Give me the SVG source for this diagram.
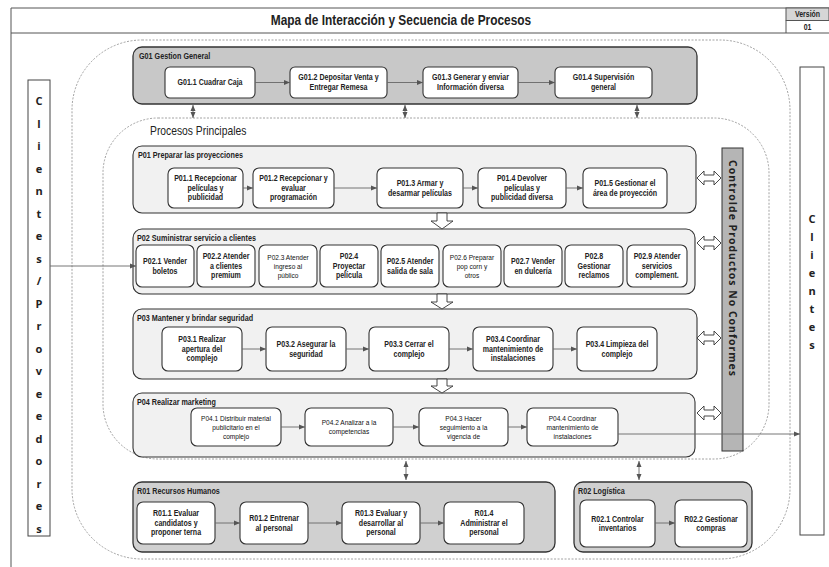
<svg xmlns="http://www.w3.org/2000/svg" width="829" height="567" viewBox="0 0 829 567">
<style>
.frame{fill:none;stroke:#555;stroke-width:1}
.grp{fill:#c8c8c8;stroke:#333;stroke-width:1.3}
.rgrp{fill:#d0d0d0;stroke:#333;stroke-width:1.3}
.pgrp{fill:#f1f1f1;stroke:#333;stroke-width:1.1}
.box{fill:#fff;stroke:#333;stroke-width:1.1}
.dash{fill:none;stroke:#8a8a8a;stroke-width:0.8;stroke-dasharray:2 1.5}
.t{font-family:"Liberation Sans",Arial,sans-serif;font-size:8.6px;font-weight:bold;fill:#222;text-anchor:middle}
.ts{font-family:"Liberation Sans",Arial,sans-serif;font-size:8px;fill:#111;text-anchor:middle}
.lbl{font-family:"Liberation Sans",Arial,sans-serif;font-size:8.8px;font-weight:bold;fill:#222}
.vt{font-family:"Open Sans","Noto Sans","Liberation Sans",sans-serif;font-size:11px;font-weight:bold;fill:#222;text-anchor:middle}
.conn{stroke:#666;stroke-width:0.9;fill:none;marker-end:url(#ah)}
.dbl{stroke:#666;stroke-width:0.9;fill:none;marker-end:url(#ah);marker-start:url(#ah)}
.hollow{fill:#fff;stroke:#333;stroke-width:0.9}
</style>
<defs>
<marker id="ah" markerWidth="6" markerHeight="6" refX="6" refY="3" orient="auto-start-reverse" markerUnits="userSpaceOnUse">
<path d="M0,0.5 L6,3 L0,5.5 z" fill="#555"/>
</marker>
</defs>
<rect width="829" height="567" fill="#fff"/>

<g id="frame">
<line class="frame" x1="11" y1="8" x2="829" y2="8"/>
<line class="frame" x1="11" y1="8" x2="11" y2="567"/>
<line class="frame" x1="11" y1="33" x2="829" y2="33"/>
<rect x="786" y="8" width="43" height="12.5" fill="#d6d6d6" stroke="#555" stroke-width="1"/>
<line class="frame" x1="786" y1="20.5" x2="786" y2="33"/>
<text transform="matrix(0.85 0 0 1 401 0)" x="0" y="25" style="font-family:'Liberation Sans',Arial,sans-serif;font-size:14px;font-weight:bold;fill:#222;text-anchor:middle">Mapa de Interacción y Secuencia de Procesos</text>
<text transform="matrix(0.82 0 0 1 807.5 0)" x="0" y="17.5" style="font-family:'Liberation Sans',Arial,sans-serif;font-size:8.5px;font-weight:bold;fill:#222;text-anchor:middle">Versión</text>
<text transform="matrix(0.82 0 0 1 807.5 0)" x="0" y="30" style="font-family:'Liberation Sans',Arial,sans-serif;font-size:8.5px;font-weight:bold;fill:#222;text-anchor:middle">01</text>
</g>

<rect class="dash" x="72" y="40" width="718" height="519" rx="70"/>
<rect class="dash" x="103" y="118" width="666" height="341" rx="55"/>
<text transform="matrix(0.86 0 0 1 150 0)" x="0" y="135" style="font-family:'Liberation Sans',Arial,sans-serif;font-size:12px;fill:#222">Procesos Principales</text>

<g id="clientes-proveedores">
<rect x="28" y="80" width="22" height="456" fill="#fff" stroke="#444" stroke-width="1"/>
<text class="vt">
<tspan x="39" y="105">C</tspan><tspan x="39" y="127.5">l</tspan><tspan x="39" y="150">i</tspan><tspan x="39" y="172.5">e</tspan><tspan x="39" y="195">n</tspan><tspan x="39" y="217.5">t</tspan><tspan x="39" y="240">e</tspan><tspan x="39" y="262.5">s</tspan><tspan x="39" y="285">/</tspan><tspan x="39" y="307.5">P</tspan><tspan x="39" y="330">r</tspan><tspan x="39" y="352.5">o</tspan><tspan x="39" y="375">v</tspan><tspan x="39" y="397.5">e</tspan><tspan x="39" y="420">e</tspan><tspan x="39" y="442.5">d</tspan><tspan x="39" y="465">o</tspan><tspan x="39" y="487.5">r</tspan><tspan x="39" y="510">e</tspan><tspan x="39" y="532.5">s</tspan>
</text>
</g>

<g id="clientes">
<rect x="800" y="67" width="24" height="468" fill="#fff" stroke="#444" stroke-width="1"/>
<text class="vt">
<tspan x="812" y="223">C</tspan><tspan x="812" y="241">l</tspan><tspan x="812" y="259">i</tspan><tspan x="812" y="277">e</tspan><tspan x="812" y="295">n</tspan><tspan x="812" y="313">t</tspan><tspan x="812" y="331">e</tspan><tspan x="812" y="349">s</tspan>
</text>
</g>

<g id="control">
<rect x="722" y="148" width="21" height="303" fill="#b5b5b5" stroke="#333" stroke-width="1"/>
<text transform="rotate(90 732.5 268)" x="732.5" y="272" textLength="216" lengthAdjust="spacing" style="font-family:'Open Sans','Noto Sans',sans-serif;font-size:10.5px;font-weight:bold;fill:#222;text-anchor:middle">Controlde Productos No Conformes</text>
</g>

<g id="G01">
<rect class="grp" x="133" y="47" width="564" height="57" rx="9"/>
<text class="lbl" transform="matrix(0.82 0 0 1 139 0)" x="0" y="59">G01 Gestion General</text>
<rect class="box" x="165" y="67" width="90" height="31" rx="5"/>
<text class="t" transform="matrix(0.82 0 0 1 210 0)" x="0" y="85.5">G01.1 Cuadrar Caja</text>
<rect class="box" x="290" y="67" width="97" height="31" rx="5"/>
<text class="t" transform="matrix(0.82 0 0 1 338.5 0)"><tspan x="0" y="80.5">G01.2 Depositar Venta y</tspan><tspan x="0" y="90.5">Entregar Remesa</tspan></text>
<rect class="box" x="423" y="67" width="95" height="31" rx="5"/>
<text class="t" transform="matrix(0.82 0 0 1 470.5 0)"><tspan x="0" y="80.5">G01.3 Generar y enviar</tspan><tspan x="0" y="90.5">Información diversa</tspan></text>
<rect class="box" x="555" y="67" width="97" height="31" rx="5"/>
<text class="t" transform="matrix(0.82 0 0 1 603.5 0)"><tspan x="0" y="80.5">G01.4 Supervisión</tspan><tspan x="0" y="90.5">general</tspan></text>
</g>

<g id="P01">
<rect class="pgrp" x="133" y="146" width="563" height="67" rx="9"/>
<text class="lbl" transform="matrix(0.82 0 0 1 138 0)" x="0" y="158">P01 Preparar las proyecciones</text>
<rect class="box" x="168" y="168" width="75" height="40" rx="6"/>
<text class="t" transform="matrix(0.82 0 0 1 205.5 0)"><tspan x="0" y="181.5">P01.1 Recepcionar</tspan><tspan x="0" y="191">películas y</tspan><tspan x="0" y="200.5">publicidad</tspan></text>
<rect class="box" x="253" y="168" width="81" height="40" rx="6"/>
<text class="t" transform="matrix(0.82 0 0 1 293.5 0)"><tspan x="0" y="181.5">P01.2 Recepcionar y</tspan><tspan x="0" y="191">evaluar</tspan><tspan x="0" y="200.5">programación</tspan></text>
<rect class="box" x="377" y="168" width="86" height="40" rx="6"/>
<text class="t" transform="matrix(0.82 0 0 1 420 0)"><tspan x="0" y="186.25">P01.3 Armar y</tspan><tspan x="0" y="195.75">desarmar películas</tspan></text>
<rect class="box" x="478" y="168" width="88" height="40" rx="6"/>
<text class="t" transform="matrix(0.82 0 0 1 522 0)"><tspan x="0" y="181.5">P01.4 Devolver</tspan><tspan x="0" y="191">películas y</tspan><tspan x="0" y="200.5">publicidad diversa</tspan></text>
<rect class="box" x="583" y="168" width="84" height="40" rx="6"/>
<text class="t" transform="matrix(0.82 0 0 1 625 0)"><tspan x="0" y="186.25">P01.5 Gestionar el</tspan><tspan x="0" y="195.75">área de proyección</tspan></text>
</g>

<g id="P02">
<rect class="pgrp" x="133" y="229" width="562" height="65" rx="9"/>
<text class="lbl" transform="matrix(0.82 0 0 1 137 0)" x="0" y="241">P02 Suministrar servicio a clientes</text>
<rect class="box" x="136" y="245" width="58" height="42" rx="6"/>
<text class="t" transform="matrix(0.82 0 0 1 165 0)"><tspan x="0" y="264.25">P02.1 Vender</tspan><tspan x="0" y="273.75">boletos</tspan></text>
<rect class="box" x="197" y="245" width="58" height="42" rx="6"/>
<text class="t" transform="matrix(0.82 0 0 1 226 0)"><tspan x="0" y="259.5">P02.2 Atender</tspan><tspan x="0" y="269">a clientes</tspan><tspan x="0" y="278.5">premium</tspan></text>
<rect class="box" x="259" y="245" width="58" height="42" rx="6"/>
<text class="ts" transform="matrix(0.82 0 0 1 288 0)"><tspan x="0" y="260">P02.3 Atender</tspan><tspan x="0" y="269">ingreso al</tspan><tspan x="0" y="278">público</tspan></text>
<rect class="box" x="320" y="245" width="58" height="42" rx="6"/>
<text class="t" transform="matrix(0.82 0 0 1 349 0)"><tspan x="0" y="259.5">P02.4</tspan><tspan x="0" y="269">Proyectar</tspan><tspan x="0" y="278.5">película</tspan></text>
<rect class="box" x="381" y="245" width="58" height="42" rx="6"/>
<text class="t" transform="matrix(0.82 0 0 1 410 0)"><tspan x="0" y="264.25">P02.5 Atender</tspan><tspan x="0" y="273.75">salida de sala</tspan></text>
<rect class="box" x="443" y="245" width="58" height="42" rx="6"/>
<text class="ts" transform="matrix(0.82 0 0 1 472 0)"><tspan x="0" y="260">P02.6 Preparar</tspan><tspan x="0" y="269">pop corn y</tspan><tspan x="0" y="278">otros</tspan></text>
<rect class="box" x="504" y="245" width="58" height="42" rx="6"/>
<text class="t" transform="matrix(0.82 0 0 1 533 0)"><tspan x="0" y="264.25">P02.7 Vender</tspan><tspan x="0" y="273.75">en dulcería</tspan></text>
<rect class="box" x="565" y="245" width="58" height="42" rx="6"/>
<text class="t" transform="matrix(0.82 0 0 1 594 0)"><tspan x="0" y="259.5">P02.8</tspan><tspan x="0" y="269">Gestionar</tspan><tspan x="0" y="278.5">reclamos</tspan></text>
<rect class="box" x="627" y="245" width="60" height="42" rx="6"/>
<text class="t" transform="matrix(0.82 0 0 1 657 0)"><tspan x="0" y="259.5">P02.9 Atender</tspan><tspan x="0" y="269">servicios</tspan><tspan x="0" y="278.5">complement.</tspan></text>
</g>

<g id="P03">
<rect class="pgrp" x="133" y="309" width="564" height="70" rx="9"/>
<text class="lbl" transform="matrix(0.82 0 0 1 137 0)" x="0" y="321">P03 Mantener y brindar seguridad</text>
<rect class="box" x="162" y="327" width="80" height="44" rx="6"/>
<text class="t" transform="matrix(0.82 0 0 1 202 0)"><tspan x="0" y="342.5">P03.1 Realizar</tspan><tspan x="0" y="352">apertura del</tspan><tspan x="0" y="361.5">complejo</tspan></text>
<rect class="box" x="266" y="327" width="80" height="44" rx="6"/>
<text class="t" transform="matrix(0.82 0 0 1 306 0)"><tspan x="0" y="347.25">P03.2 Asegurar la</tspan><tspan x="0" y="356.75">seguridad</tspan></text>
<rect class="box" x="369" y="327" width="80" height="44" rx="6"/>
<text class="t" transform="matrix(0.82 0 0 1 409 0)"><tspan x="0" y="347.25">P03.3 Cerrar el</tspan><tspan x="0" y="356.75">complejo</tspan></text>
<rect class="box" x="473" y="327" width="80" height="44" rx="6"/>
<text class="t" transform="matrix(0.82 0 0 1 513 0)"><tspan x="0" y="342.5">P03.4 Coordinar</tspan><tspan x="0" y="352">mantenimiento de</tspan><tspan x="0" y="361.5">instalaciones</tspan></text>
<rect class="box" x="577" y="327" width="80" height="44" rx="6"/>
<text class="t" transform="matrix(0.82 0 0 1 617 0)"><tspan x="0" y="347.25">P03.4 Limpieza del</tspan><tspan x="0" y="356.75">complejo</tspan></text>
</g>

<g id="P04">
<rect class="pgrp" x="133" y="393" width="562" height="64" rx="9"/>
<text class="lbl" transform="matrix(0.82 0 0 1 137 0)" x="0" y="405">P04 Realizar marketing</text>
<rect class="box" x="191" y="408" width="90" height="38" rx="6"/>
<text class="ts" transform="matrix(0.82 0 0 1 236 0)"><tspan x="0" y="421">P04.1 Distribuir material</tspan><tspan x="0" y="430">publicitario en el</tspan><tspan x="0" y="439">complejo</tspan></text>
<rect class="box" x="305" y="408" width="88" height="38" rx="6"/>
<text class="ts" transform="matrix(0.82 0 0 1 349 0)"><tspan x="0" y="425.5">P04.2 Analizar  a la</tspan><tspan x="0" y="434.5">competencias</tspan></text>
<rect class="box" x="419" y="408" width="89" height="38" rx="6"/>
<text class="ts" transform="matrix(0.82 0 0 1 463.5 0)"><tspan x="0" y="421">P04.3 Hacer</tspan><tspan x="0" y="430">seguimiento a la</tspan><tspan x="0" y="439">vigencia de</tspan></text>
<rect class="box" x="527" y="408" width="91" height="38" rx="6"/>
<text class="ts" transform="matrix(0.82 0 0 1 572.5 0)"><tspan x="0" y="421">P04.4 Coordinar</tspan><tspan x="0" y="430">mantenimiento  de</tspan><tspan x="0" y="439">instalaciones</tspan></text>
</g>

<g id="R01">
<rect class="rgrp" x="133" y="482" width="422" height="70" rx="9"/>
<text class="lbl" transform="matrix(0.82 0 0 1 137 0)" x="0" y="494">R01 Recursos Humanos</text>
<rect class="box" x="137" y="502" width="78" height="42" rx="6"/>
<text class="t" transform="matrix(0.82 0 0 1 176 0)"><tspan x="0" y="516.5">R01.1 Evaluar</tspan><tspan x="0" y="526">candidatos y</tspan><tspan x="0" y="535.5">proponer terna</tspan></text>
<rect class="box" x="240" y="502" width="68" height="42" rx="6"/>
<text class="t" transform="matrix(0.82 0 0 1 274 0)"><tspan x="0" y="521.25">R01.2 Entrenar</tspan><tspan x="0" y="530.75">al personal</tspan></text>
<rect class="box" x="342" y="502" width="78" height="42" rx="6"/>
<text class="t" transform="matrix(0.82 0 0 1 381 0)"><tspan x="0" y="516.5">R01.3 Evaluar y</tspan><tspan x="0" y="526">desarrollar al</tspan><tspan x="0" y="535.5">personal</tspan></text>
<rect class="box" x="444" y="502" width="80" height="42" rx="6"/>
<text class="t" transform="matrix(0.82 0 0 1 484 0)"><tspan x="0" y="516.5">R01.4</tspan><tspan x="0" y="526">Administrar el</tspan><tspan x="0" y="535.5">personal</tspan></text>
</g>

<g id="R02">
<rect class="rgrp" x="574" y="482" width="178" height="70" rx="9"/>
<text class="lbl" transform="matrix(0.82 0 0 1 578 0)" x="0" y="494">R02 Logística</text>
<rect class="box" x="580" y="500" width="75" height="47" rx="6"/>
<text class="t" transform="matrix(0.82 0 0 1 617.5 0)"><tspan x="0" y="521.75">R02.1 Controlar</tspan><tspan x="0" y="531.25">inventarios</tspan></text>
<rect class="box" x="675" y="500" width="72" height="47" rx="6"/>
<text class="t" transform="matrix(0.82 0 0 1 711 0)"><tspan x="0" y="521.75">R02.2 Gestionar</tspan><tspan x="0" y="531.25">compras</tspan></text>
</g>

<g id="connectors">
<line class="conn" x1="255" y1="82.5" x2="290" y2="82.5"/>
<line class="conn" x1="387" y1="82.5" x2="423" y2="82.5"/>
<line class="conn" x1="518" y1="82.5" x2="555" y2="82.5"/>
<line class="dbl" x1="193" y1="105" x2="193" y2="118"/>
<line class="dbl" x1="405" y1="105" x2="405" y2="118"/>
<line class="dbl" x1="637" y1="105" x2="637" y2="118"/>
<line class="conn" x1="243" y1="188" x2="253" y2="188"/>
<line class="conn" x1="334" y1="188" x2="377" y2="188"/>
<line class="conn" x1="463" y1="188" x2="478" y2="188"/>
<line class="conn" x1="566" y1="188" x2="583" y2="188"/>
<line class="conn" x1="50" y1="266" x2="136" y2="266"/>
<line class="conn" x1="242" y1="349" x2="266" y2="349"/>
<line class="conn" x1="346" y1="349" x2="369" y2="349"/>
<line class="conn" x1="449" y1="349" x2="473" y2="349"/>
<line class="conn" x1="553" y1="349" x2="577" y2="349"/>
<line class="conn" x1="281" y1="427" x2="305" y2="427"/>
<line class="conn" x1="393" y1="427" x2="419" y2="427"/>
<line class="conn" x1="508" y1="427" x2="527" y2="427"/>
<line class="conn" x1="618" y1="434" x2="800" y2="434"/>
<line class="dbl" x1="406" y1="461" x2="406" y2="480"/>
<line class="dbl" x1="639" y1="461" x2="639" y2="480"/>
<line class="conn" x1="215" y1="523" x2="240" y2="523"/>
<line class="conn" x1="308" y1="523" x2="342" y2="523"/>
<line class="conn" x1="420" y1="523" x2="444" y2="523"/>
<line class="conn" x1="655" y1="523" x2="675" y2="523"/>
<path class="hollow" d="M437,213 L447,213 L447,221 L453,221 L442,229 L431,221 L437,221 Z"/>
<path class="hollow" d="M437,294 L447,294 L447,302 L453,302 L442,309 L431,302 L437,302 Z"/>
<path class="hollow" d="M437,379 L447,379 L447,386 L453,386 L442,393 L431,386 L437,386 Z"/>
<path class="hollow" d="M697,178 L704,171 L704,175 L714,175 L714,171 L721,178 L714,185 L714,181 L704,181 L704,185 Z"/>
<path class="hollow" d="M697,243 L704,236 L704,240 L714,240 L714,236 L721,243 L714,250 L714,246 L704,246 L704,250 Z"/>
<path class="hollow" d="M697,338 L704,331 L704,335 L714,335 L714,331 L721,338 L714,345 L714,341 L704,341 L704,345 Z"/>
<path class="hollow" d="M697,413 L704,406 L704,410 L714,410 L714,406 L721,413 L714,420 L714,416 L704,416 L704,420 Z"/>
</g>
</svg>
